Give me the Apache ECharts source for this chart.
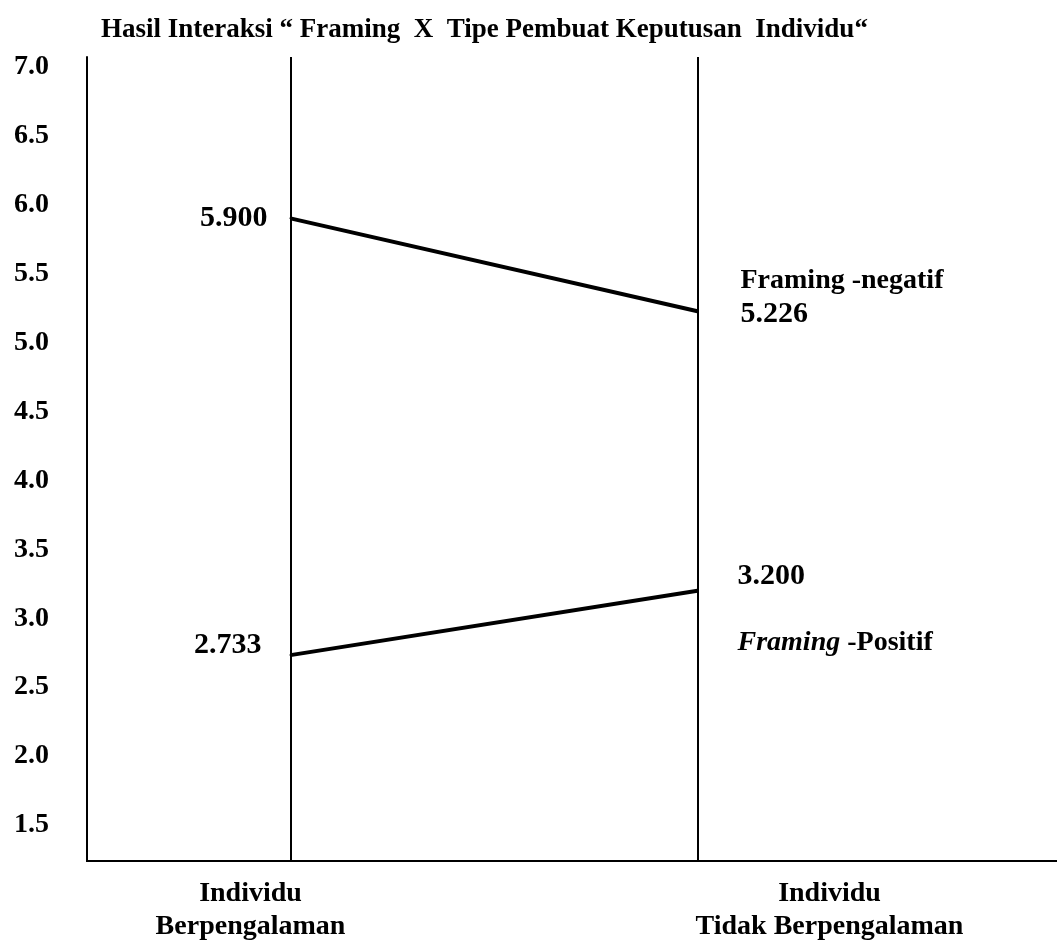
<!DOCTYPE html>
<html>
<head>
<meta charset="utf-8">
<script src="https://cdn.jsdelivr.net/npm/echarts@6/dist/echarts.min.js"></script>
<style>html,body{margin:0;padding:0;background:#fff;}#c{width:1057px;height:945px;}</style>
</head>
<body>
<div id="c"></div>
<script>
const titleText = 'Hasil Interaksi \u201C Framing  X  Tipe Pembuat Keputusan  Individu\u201C';
const categories = ['Individu\nBerpengalaman', 'Individu\nTidak Berpengalaman'];
const negatifName = 'Framing -negatif';
const positifName = 'Framing -Positif';
const negatif = [5.900, 5.226];
const positif = [2.733, 3.200];
const yTicks = [1.5, 2.0, 2.5, 3.0, 3.5, 4.0, 4.5, 5.0, 5.5, 6.0, 6.5, 7.0];

const FONT = '"Liberation Serif", "Times New Roman", serif';
const base = { fontFamily: FONT, fontWeight: 'bold', fontSize: 28, color: '#000' };
const valFont = { ...base, fontSize: 30 };

const chart = echarts.init(document.getElementById('c'), null, { renderer: 'canvas' });

function leftLabel(dy, dist) {
  return { show: true, position: 'left', distance: dist, offset: [0, dy],
    formatter: p => Number(p.value).toFixed(3), ...valFont };
}

const negData = negatif.map((v, i) => ({
  value: v,
  label: i === 0 ? leftLabel(0, 22) : {
    show: true, position: 'right', distance: 42, offset: [0, -14],
    formatter: p => '{n|' + negatifName + '}\n{v|' + Number(p.value).toFixed(3) + '}',
    rich: { n: { ...base, lineHeight: 34 }, v: { ...valFont, lineHeight: 34 } }
  }
}));
const posData = positif.map((v, i) => ({
  value: v,
  label: i === 0 ? leftLabel(-10, 28) : {
    show: true, position: 'right', distance: 39, offset: [0, 19],
    formatter: p => '{v|' + Number(p.value).toFixed(3) + '}\n{n| }\n{i|' + positifName.split(' ')[0] + '}{n| ' + positifName.split(' ')[1] + '}',
    rich: { n: { ...base, lineHeight: 33 }, v: { ...valFont, lineHeight: 33 }, i: { ...base, fontStyle: 'italic', lineHeight: 33 } }
  }
}));

const option = {
  backgroundColor: '#fff',
  animation: false,
  title: {
    text: titleText, left: 96, top: 12,
    textStyle: { ...base, fontSize: 27 }
  },
  grid: [
    { left: 87, right: 156, top: 57, bottom: 84, containLabel: false },
    { left: 87, right: 0, top: 57, bottom: 84, containLabel: false }
  ],
  xAxis: [
    {
      type: 'category', gridIndex: 0, data: categories, boundaryGap: true,
      axisLine: { show: true, lineStyle: { color: '#000', width: 2 } },
      axisTick: { show: false },
      splitLine: { show: false },
      axisLabel: {
        interval: 0, margin: 16,
        formatter: (v, idx) => {
          const key = idx === 0 ? 'l' : 'r';
          return v.split('\n').map(s => '{' + key + '|' + s + '}').join('\n');
        },
        rich: {
          l: { ...base, lineHeight: 33, padding: [0, 80, 0, 0] },
          r: { ...base, lineHeight: 33, padding: [0, 0, 0, 264] }
        }
      }
    },
    {
      type: 'category', gridIndex: 1, data: [''],
      axisLine: { show: true, lineStyle: { color: '#000', width: 2 } },
      axisTick: { show: false }, axisLabel: { show: false }, splitLine: { show: false }
    }
  ],
  yAxis: [
    {
      type: 'value', gridIndex: 0, min: 1.24, max: 7.07,
      axisLine: { show: true, lineStyle: { color: '#000', width: 2 } },
      axisTick: { show: false },
      splitLine: { show: false },
      axisLabel: {
        customValues: yTicks, margin: 38,
        formatter: v => v.toFixed(1), ...base
      }
    },
    {
      type: 'value', gridIndex: 1, min: 0, max: 1, show: false
    }
  ],
  series: [
    {
      name: negatifName, type: 'line', xAxisIndex: 0, yAxisIndex: 0,
      data: negData, symbol: 'circle', symbolSize: 2, showSymbol: true,
      itemStyle: { color: '#000' },
      lineStyle: { color: '#000', width: 4 },
      markLine: {
        silent: true, symbol: 'none', label: { show: false },
        lineStyle: { color: '#000', width: 2, type: 'solid' },
        data: categories.map((c, i) => ({ xAxis: i }))
      },
      z: 3
    },
    {
      name: positifName, type: 'line', xAxisIndex: 0, yAxisIndex: 0,
      data: posData, symbol: 'circle', symbolSize: 2, showSymbol: true,
      itemStyle: { color: '#000' },
      lineStyle: { color: '#000', width: 4 },
      z: 3
    }
  ]
};
chart.setOption(option);
</script>
</body>
</html>
